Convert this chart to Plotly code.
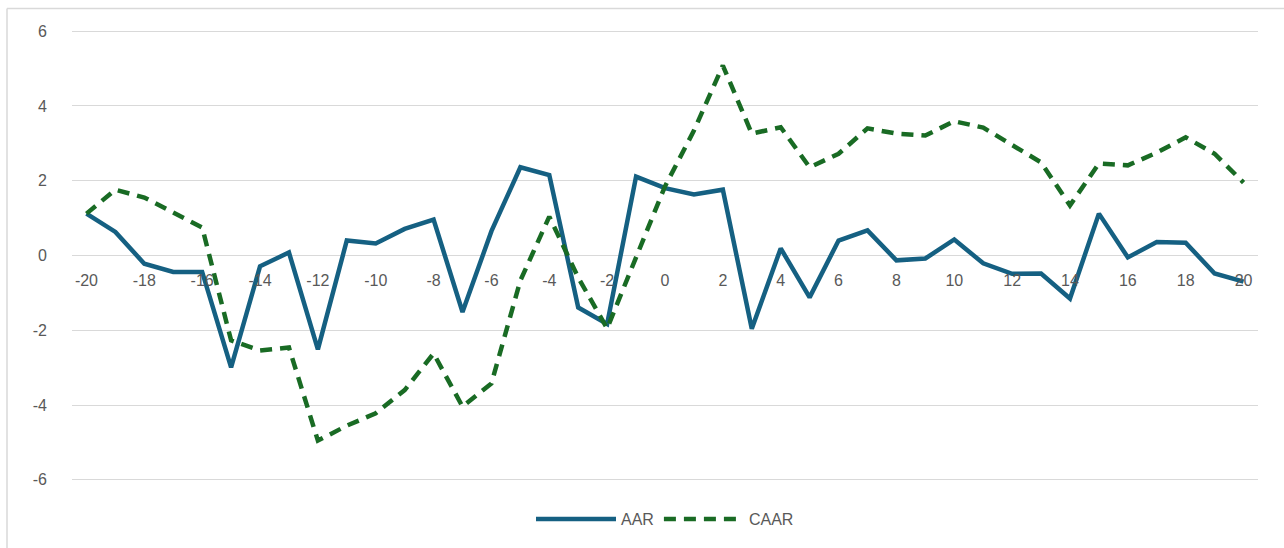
import plotly.graph_objects as go

# Event window (days relative to event)
days = list(range(-20, 21))

# Average abnormal return
aar = [1.12, 0.63, -0.22, -0.44, -0.44, -2.99, -0.29, 0.08, -2.51, 0.40,
       0.32, 0.71, 0.96, -1.51, 0.65, 2.36, 2.15, -1.39, -1.83, 2.11,
       1.80, 1.63, 1.76, -1.96, 0.19, -1.12, 0.40, 0.67, -0.13, -0.08,
       0.43, -0.21, -0.49, -0.48, -1.15, 1.12, -0.05, 0.36, 0.34, -0.48,
       -0.70]

# Cumulative average abnormal return
caar = [1.12, 1.76, 1.55, 1.15, 0.75, -2.27, -2.54, -2.46, -4.95, -4.55,
        -4.22, -3.60, -2.62, -4.04, -3.42, -0.67, 1.04, -0.59, -1.95, -0.05,
        1.85, 3.34, 5.08, 3.26, 3.43, 2.36, 2.72, 3.40, 3.26, 3.21,
        3.59, 3.42, 2.94, 2.49, 1.34, 2.46, 2.41, 2.75, 3.16, 2.72,
        1.95]

x_ticks = list(range(-20, 21, 2))
x_tick_text = [str(v) for v in x_ticks]
y_ticks = list(range(-6, 7, 2))
y_tick_text = [str(v) for v in y_ticks]

BLUE = "#156082"
GREEN = "#196B24"
TEXT = "#595959"
GRID = "#D9D9D9"
FONT = "Liberation Sans, Arial, sans-serif"

fig = go.Figure()
fig.add_trace(go.Scatter(
    x=days, y=aar, name="AAR", mode="lines",
    line=dict(color=BLUE, width=4.5),
))
fig.add_trace(go.Scatter(
    x=days, y=caar, name="CAAR", mode="lines",
    line=dict(color=GREEN, width=4.5, dash="12px,8px"),
))

W, H = 1284, 548
ml, mr, mt, mb = 72, 26, 30, 67
pw, ph = W - ml - mr, H - mt - mb


def px_x(p):
    return (p - ml) / pw


def px_y(p):
    return (H - mb - p) / ph


# Chart-area frame (top and left edges)
frame = dict(type="line", xref="paper", yref="paper",
             line=dict(color="#D9D9D9", width=1.5))
fig.add_shape(**frame, x0=px_x(7), x1=px_x(W + 5), y0=px_y(8.5), y1=px_y(8.5))
fig.add_shape(**frame, x0=px_x(7), x1=px_x(7), y0=px_y(8.5), y1=px_y(H + 5))

fig.update_layout(
    width=W, height=H,
    margin=dict(l=ml, r=mr, t=mt, b=mb),
    paper_bgcolor="white", plot_bgcolor="white",
    font=dict(family=FONT, size=16, color=TEXT),
    showlegend=True,
    legend=dict(orientation="h", x=0.5, xanchor="center",
                y=px_y(519), yanchor="middle",
                font=dict(size=16, color=TEXT), itemwidth=80,
                tracegroupgap=0),
    xaxis=dict(
        range=[-20.5, 20.5], tickmode="array", tickvals=x_ticks,
        ticktext=x_tick_text,
        showgrid=False, zeroline=False, showline=False, ticks="",
        anchor="free", position=0.5, ticklabelstandoff=13,
        tickfont=dict(size=16, color=TEXT),
    ),
    yaxis=dict(
        range=[-6.03, 6.03], tickmode="array", tickvals=y_ticks,
        ticktext=y_tick_text,
        showgrid=True, gridcolor=GRID, gridwidth=1.3,
        zeroline=False, showline=False, ticks="",
        ticklabelstandoff=24,
        tickfont=dict(size=16, color=TEXT),
    ),
)

fig.write_html("out.html")
